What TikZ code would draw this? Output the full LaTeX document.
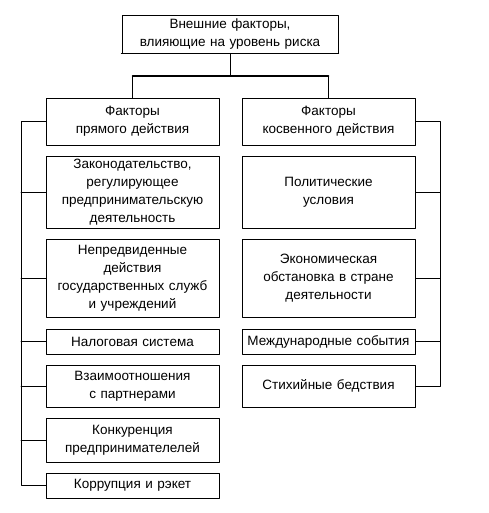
\documentclass[tikz,border=0pt]{standalone}
\usepackage{fontspec}
\setmainfont{Liberation Sans}
\usetikzlibrary{calc}
\tikzset{
    lab/.style={
        font=\fontsize{13.5}{18}\selectfont
    }
}
\begin{document}
\begin{tikzpicture}[x=1pt,y=-1pt, line cap=round, line join=round]

\tikzset{
  main/.style={draw=black, line width=0.8pt},
  heavy/.style={draw=black, line width=1.5pt},
  fbox/.style={draw=black, line width=0.8pt, lab, align=center, inner sep=0pt,
    minimum width=173pt, text width=170pt},
  headbox/.style={fbox, minimum width=216pt, text width=210pt, minimum height=38pt},
}

\useasboundingbox (0,0) rectangle (488,513);

% top
\node[headbox] (ext) at (230,34) {Внешние факторы,\\влияющие на уровень риска};
\coordinate (split) at (230,76);

% direct factors
\node[fbox, minimum height=47pt] (dir) at (132.5,121.5) {Факторы\\прямого действия};
\node[fbox, minimum height=72pt] (law) at (132.5,192) {Законодательство,\\регулирующее\\предпринимательскую\\деятельность};
\node[fbox, minimum height=78pt] (gov) at (132.5,278) {Непредвиденные\\действия\\государственных служб\\и учреждений};
\node[fbox, minimum height=25pt] (tax) at (132.5,341.5) {Налоговая система};
\node[fbox, minimum height=42pt] (part) at (132.5,386) {Взаимоотношения\\с партнерами};
\node[fbox, minimum height=44pt] (comp) at (132.5,440) {Конкуренция\\предпринимателелей};
\node[fbox, minimum height=25pt] (corr) at (132.5,485.5) {Коррупция и рэкет};

% indirect factors
\node[fbox, minimum height=47pt] (ind) at (328.5,121.5) {Факторы\\косвенного действия};
\node[fbox, minimum height=72pt] (pol) at (328.5,192) {Политические\\условия};
\node[fbox, minimum height=78pt] (eco) at (328.5,278) {Экономическая\\обстановка в стране\\деятельности};
\node[fbox, minimum height=25pt] (intl) at (328.5,341.5) {Международные события};
\node[fbox, minimum height=42pt] (nat) at (328.5,386) {Стихийные бедствия};

% top connectors
\draw[main] (ext) -- (split);
\draw[main] (dir.north) |- (split) -| (ind.north);
\draw[heavy] (dir.north |- split) -- (ind.north |- split);
\draw[heavy] (ext.south west) -- (ext.south east);

% left bus
\draw[main] (dir.west) -- ++(-24.5,0) |- (corr.west);
\foreach \b in {law,gov,tax,part,comp}
  \draw[main] (\b.west) -- ++(-24.5,0);

% right bus
\draw[main] (ind.east) -- ++(25,0) |- (nat.east);
\foreach \b in {pol,eco,intl}
  \draw[main] (\b.east) -- ++(25,0);

\end{tikzpicture}
\end{document}
